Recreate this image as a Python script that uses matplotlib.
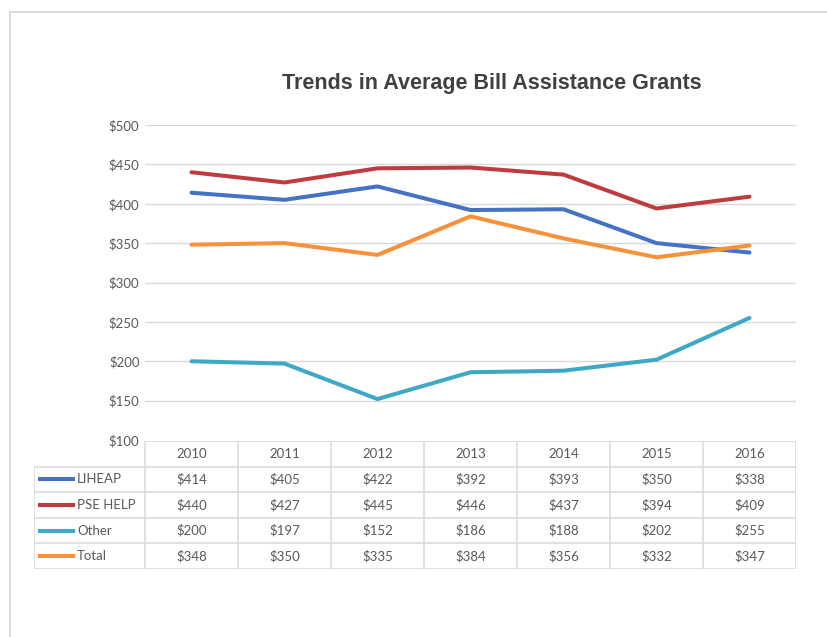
import matplotlib
matplotlib.use("Agg")
import matplotlib.pyplot as plt
from matplotlib.patches import Rectangle

years = ["2010", "2011", "2012", "2013", "2014", "2015", "2016"]
series_names = ["LIHEAP", "PSE HELP", "Other", "Total"]
liheap = [414, 405, 422, 392, 393, 350, 338]
pse_help = [440, 427, 445, 446, 437, 394, 409]
other = [200, 197, 152, 186, 188, 202, 255]
total = [348, 350, 335, 384, 356, 332, 347]
y_ticks = [100, 150, 200, 250, 300, 350, 400, 450, 500]

colors = ["#4472C4", "#BE3B3F", "#3FA8C4", "#F7923A"]
text_col = "#595959"
grid_col = "#D9D9D9"

plt.rcParams['font.family'] = ['Lato', 'DejaVu Sans']

W, H = 827, 637
fig = plt.figure(figsize=(W / 100, H / 100), dpi=100, facecolor="white")

# light frame around the chart area
fig.patches.append(Rectangle((10 / W, -0.1), 1.2, 1 - 12 / H + 0.1,
                             transform=fig.transFigure, fill=False,
                             edgecolor="#D4D4D4", linewidth=1.2))

def fx(px):
    return px / W

def fy(py):
    return 1 - py / H

# main line chart
ax = fig.add_axes([fx(145), fy(440), fx(796) - fx(145), fy(125) - fy(440)])
x = list(range(len(years)))
all_series = [liheap, pse_help, other, total]
for vals, c in zip(all_series, colors):
    ax.plot(x, vals, color=c, linewidth=2.9, solid_capstyle="round",
            solid_joinstyle="round")

ax.set_xlim(-0.5, len(years) - 0.5)
ax.set_ylim(100, 500)
ax.set_yticks(y_ticks)
ax.set_yticklabels(["$%d" % v for v in y_ticks])
ax.set_xticks([])
ax.tick_params(axis="y", length=0, pad=4, labelsize=9.5, labelcolor=text_col)
for v in y_ticks[1:]:
    ax.axhline(v, color=grid_col, linewidth=1.0, zorder=0)
for s in ax.spines.values():
    s.set_visible(False)

fig.text(fx(492), fy(83), "Trends in Average Bill Assistance Grants",
         ha="center", va="center", fontsize=15.5, fontweight="bold",
         color="#404040", family=["Liberation Sans Narrow", "Liberation Sans", "DejaVu Sans"])

# data table under the chart, columns share the chart's categories
cat_w = (796 - 145) / len(years)
left_ext = (145 - 34) / cat_w
tab = fig.add_axes([fx(34), fy(569), fx(796) - fx(34), fy(441) - fy(569)])
tab.set_xlim(-0.5 - left_ext, len(years) - 0.5)
n_rows = len(series_names) + 1
tab.set_ylim(n_rows, 0)
tab.axis("off")

line_kw = dict(color=grid_col, linewidth=1.1)
# header row (years only)
tab.hlines(0, -0.5, len(years) - 0.5, **line_kw)
for r in range(1, n_rows + 1):
    tab.hlines(r, -0.5 - left_ext, len(years) - 0.5, **line_kw)
for i in range(len(years) + 1):
    tab.vlines(i - 0.5, 0, n_rows, **line_kw)
tab.vlines(-0.5 - left_ext, 1, n_rows, **line_kw)

for i, yr in enumerate(years):
    tab.text(i, 0.5, yr, ha="center", va="center", fontsize=9.5, color=text_col)

for r, (name, vals, c) in enumerate(zip(series_names, all_series, colors)):
    yc = r + 1.5
    x0 = -0.5 - left_ext + 4 / cat_w
    x1 = -0.5 - left_ext + 41 / cat_w
    tab.plot([x0, x1], [yc, yc], color=c, linewidth=2.9, solid_capstyle="butt")
    tab.text(x1 + 2 / cat_w, yc, name, ha="left", va="center",
             fontsize=9.5, color=text_col)
    for i, v in enumerate(vals):
        tab.text(i, yc, "$%d" % v, ha="center", va="center",
                 fontsize=9.5, color=text_col)

fig.savefig("out.png", dpi=100, facecolor="white")
